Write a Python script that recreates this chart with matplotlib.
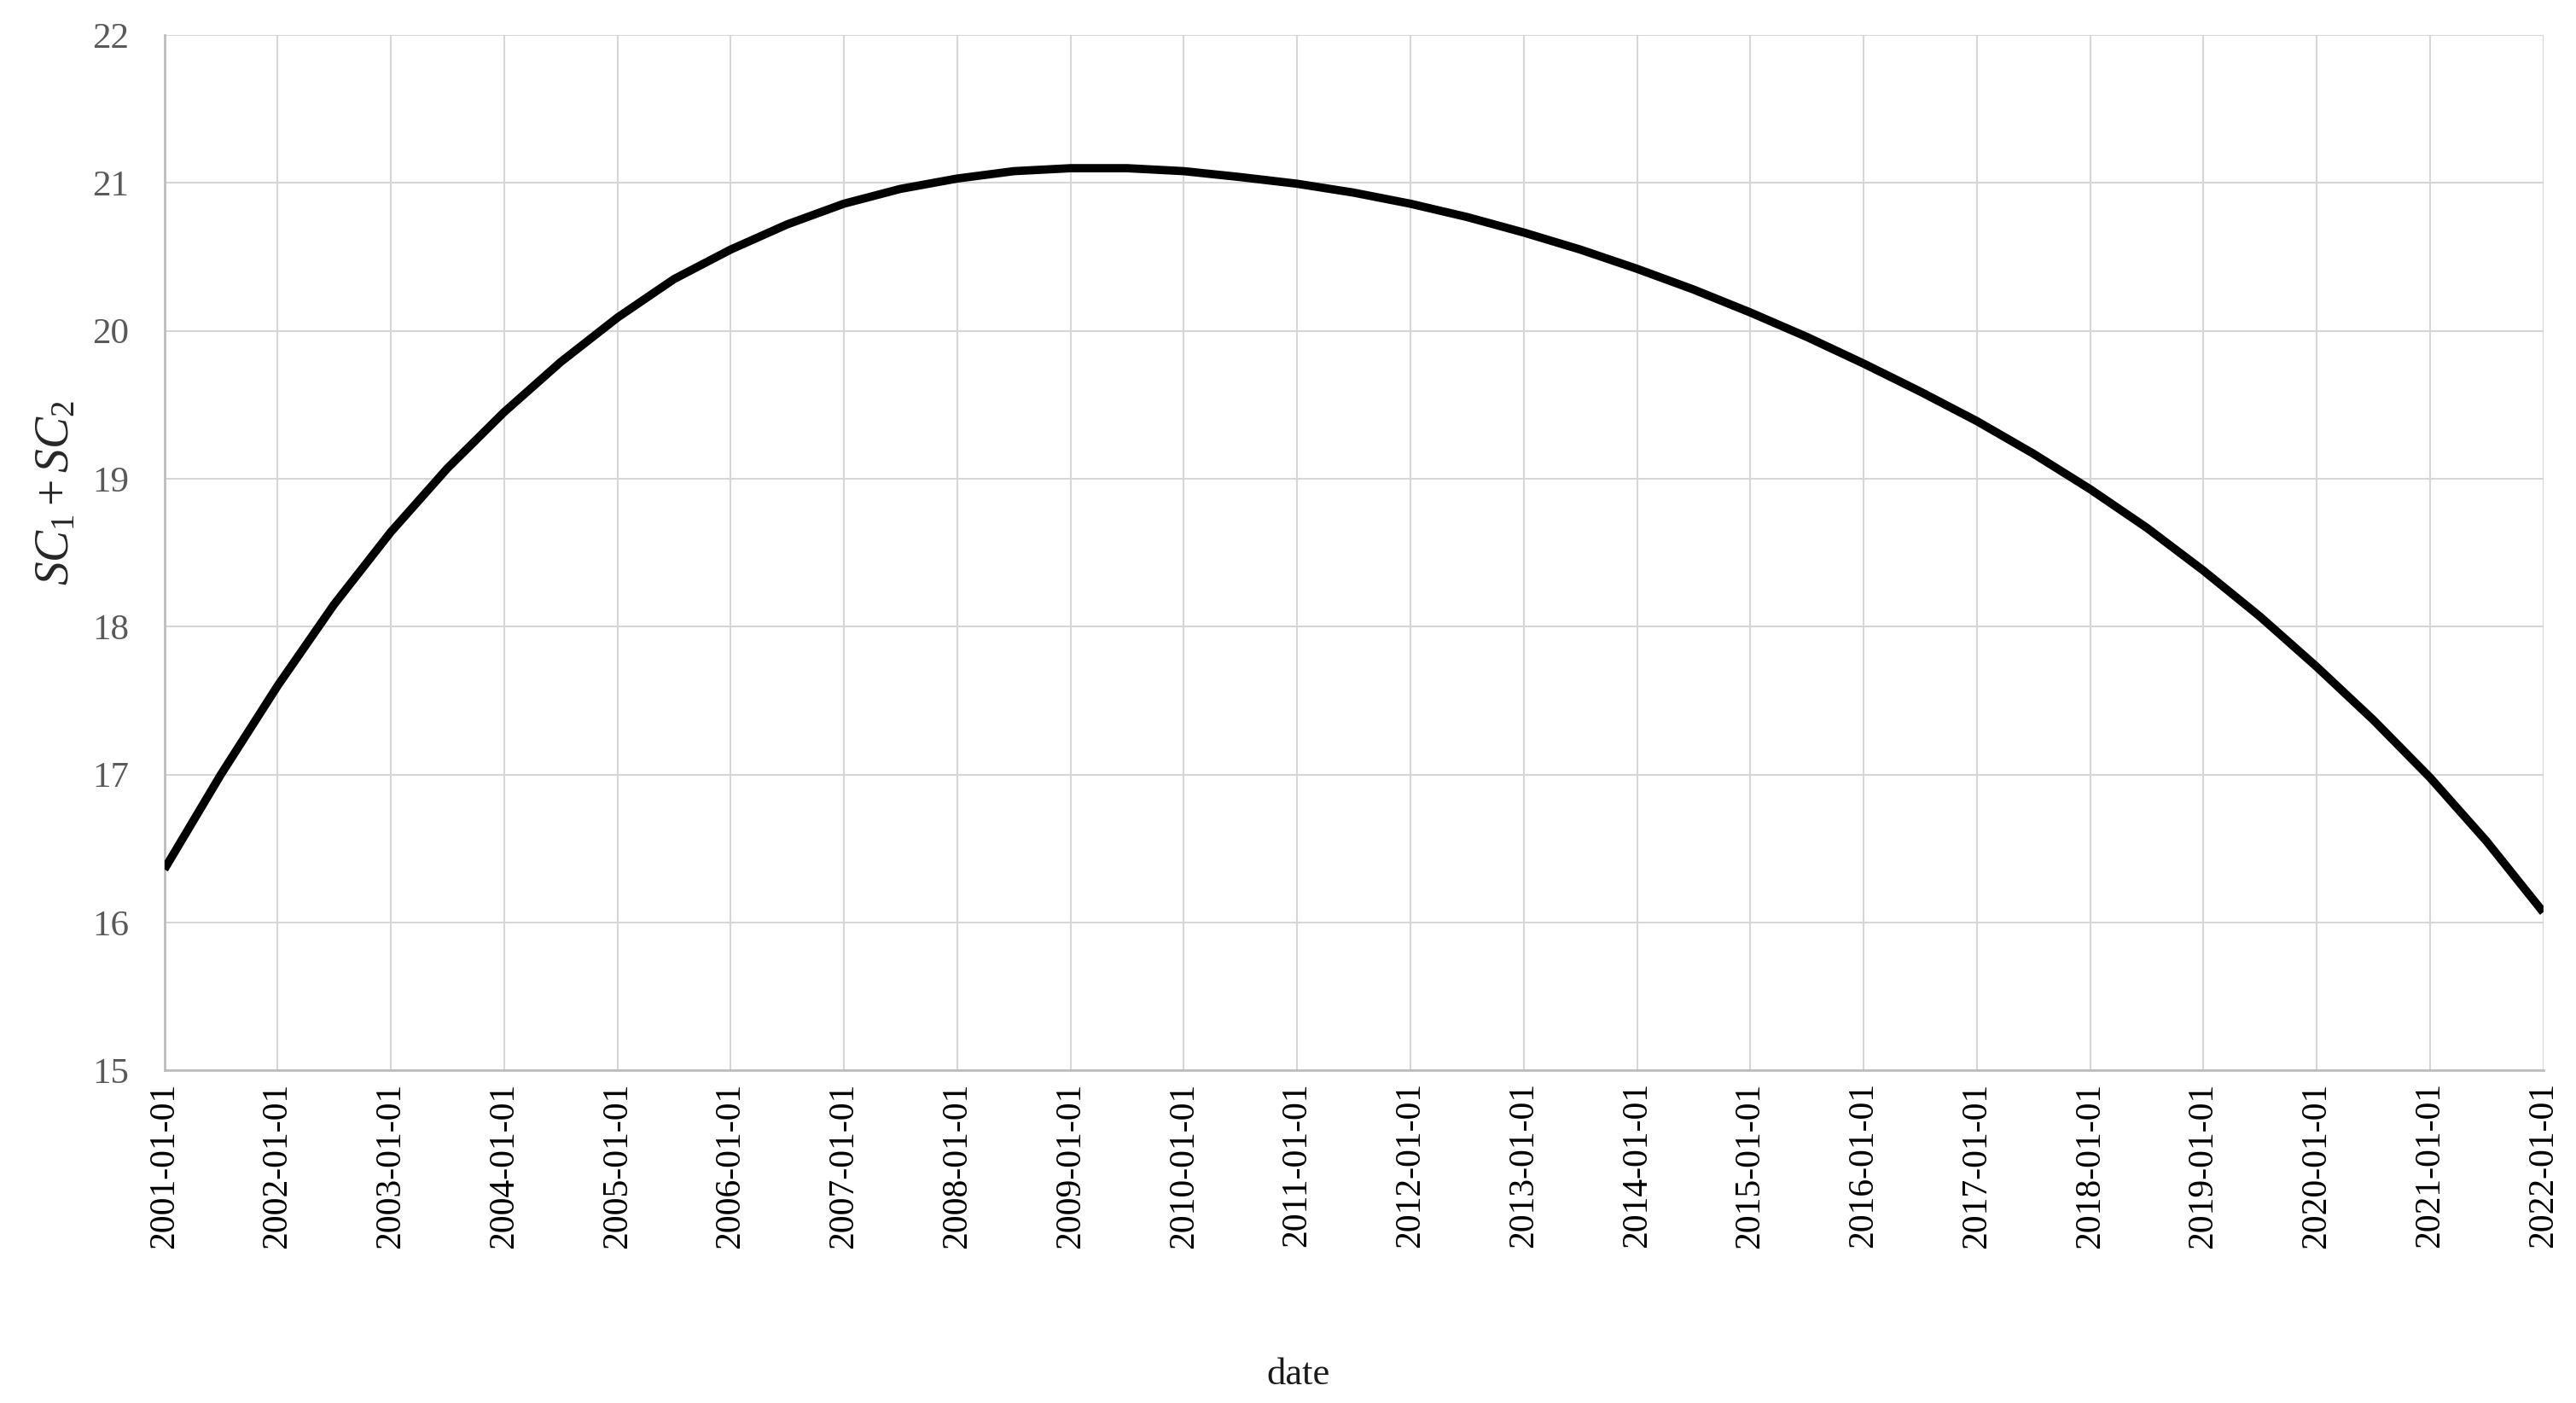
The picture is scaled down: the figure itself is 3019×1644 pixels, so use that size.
import datetime
import matplotlib
matplotlib.use("Agg")
import matplotlib.pyplot as plt
import matplotlib.dates as mdates

# readings taken every half year off the reference curve
sampleDates = ['2001-01-01', '2001-07-02', '2002-01-01', '2002-07-02', '2003-01-01', '2003-07-02',
               '2004-01-01', '2004-07-02', '2005-01-01', '2005-07-02', '2006-01-01', '2006-07-02',
               '2007-01-01', '2007-07-02', '2008-01-01', '2008-07-02', '2009-01-01', '2009-07-02',
               '2010-01-01', '2010-07-02', '2011-01-01', '2011-07-02', '2012-01-01', '2012-07-02',
               '2013-01-01', '2013-07-02', '2014-01-01', '2014-07-02', '2015-01-01', '2015-07-02',
               '2016-01-01', '2016-07-02', '2017-01-01', '2017-07-02', '2018-01-01', '2018-07-02',
               '2019-01-01', '2019-07-02', '2020-01-01', '2020-07-02', '2021-01-01', '2021-07-02',
               '2022-01-01']
scValues = [16.36, 17.00, 17.60, 18.15, 18.64, 19.07,
            19.45, 19.79, 20.09, 20.35, 20.55, 20.72,
            20.86, 20.96, 21.03, 21.08, 21.10, 21.10,
            21.08, 21.04, 20.995, 20.935, 20.86, 20.77,
            20.665, 20.55, 20.42, 20.28, 20.125, 19.96,
            19.78, 19.59, 19.39, 19.17, 18.93, 18.67,
            18.38, 18.07, 17.73, 17.37, 16.98, 16.55,
            16.07]
tickYears = list(range(2001, 2023))
yTicks = [15, 16, 17, 18, 19, 20, 21, 22]

def plotSeries(dateStrings, values, fileName):
    plt.rcParams['font.family'] = ['Liberation Serif', 'DejaVu Serif']
    plt.rcParams['mathtext.fontset'] = 'custom'
    plt.rcParams['mathtext.it'] = 'Liberation Serif:italic'
    plt.rcParams['mathtext.rm'] = 'Liberation Serif'

    fig = plt.figure(figsize=(30.19, 16.44), dpi=100)
    ax = fig.add_axes([0.0638, 0.237, 0.9235, 0.738])

    dates = [datetime.datetime.strptime(d, '%Y-%m-%d') for d in dateStrings]
    ax.plot(dates, values, color='black', linewidth=7, solid_capstyle='butt',
            solid_joinstyle='round', zorder=3)

    tickDates = [datetime.datetime(y, 1, 1) for y in tickYears]
    ax.set_xlim(tickDates[0], tickDates[-1])
    ax.set_ylim(15, 22)
    ax.set_yticks(yTicks)
    ax.set_xticks(tickDates)
    ax.xaxis.set_major_formatter(mdates.DateFormatter('%Y-%m-%d'))

    ax.grid(True, color='#d6d6d6', linewidth=1.5, linestyle='-')
    ax.set_axisbelow(True)
    for side in ['top', 'right']:
        ax.spines[side].set_visible(False)
    for side in ['left', 'bottom']:
        ax.spines[side].set_color('#bdbdbd')
        ax.spines[side].set_linewidth(2)

    ax.tick_params(axis='y', length=0, pad=30, labelsize=31, labelcolor='#595959')
    ax.tick_params(axis='x', length=0, pad=10, labelsize=30, labelcolor='black')
    plt.setp(ax.get_xticklabels(), rotation=90, ha='center', va='top')

    fig.text(0.022, 0.649, r'$SC_1+SC_2$', rotation=90, fontsize=40,
             ha='center', va='center', color='#262626')
    fig.text(0.504, 0.02, 'date', fontsize=32, ha='center', va='center', color='#1a1a1a')

    fig.savefig(fileName, dpi=100)

plotSeries(sampleDates, scValues, 'out.png')
